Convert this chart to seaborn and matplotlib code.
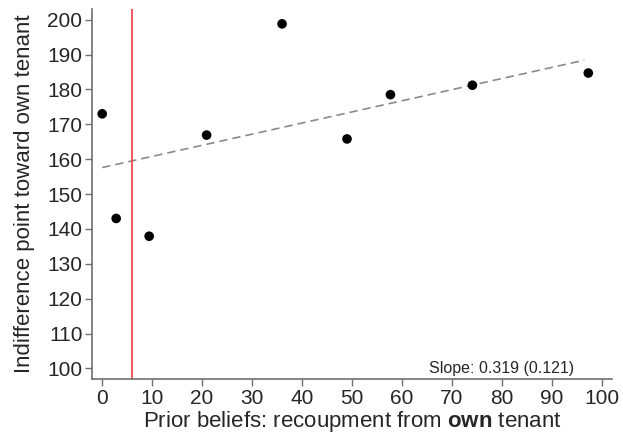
import numpy as np
import pandas as pd
import matplotlib
matplotlib.use('Agg')
import matplotlib.pyplot as plt
import seaborn as sns

# values
prior_beliefs = [0.0, 2.8, 9.4, 20.9, 36.0, 49.0, 57.7, 74.1, 97.3]
indifference = [173.0, 143.0, 137.9, 166.9, 198.8, 165.8, 178.5, 181.2, 184.7]
cutoff = 6
# fitted line as reported in the chart (fit uses the underlying individual data)
slope = 0.319
intercept = 157.6
slope_text = 'Slope: 0.319 (0.121)'

df = pd.DataFrame({'prior': prior_beliefs, 'indiff': indifference})

sns.set_style('ticks')
plt.rcParams['font.family'] = ['Liberation Sans', 'DejaVu Sans']
plt.rcParams['mathtext.fontset'] = 'custom'
plt.rcParams['mathtext.rm'] = 'Liberation Sans'
plt.rcParams['mathtext.bf'] = 'Liberation Sans:bold'

fig = plt.figure(figsize=(6.23, 4.38), dpi=100)
ax = fig.add_axes([0.148, 0.135, 0.834, 0.844])

xs = np.array([df['prior'].min(), df['prior'].max() - 0.8])
fit = pd.DataFrame({'x': xs, 'y': intercept + slope * xs})
sns.lineplot(data=fit, x='x', y='y', ax=ax, color='#8a8a8a', lw=1.2,
             linestyle=(0, (5, 3)))

sns.scatterplot(data=df, x='prior', y='indiff', ax=ax, color='black',
                s=48, edgecolor='none', zorder=3)
ax.axvline(cutoff, color='#f03c3c', lw=1.2)

ax.set_xlim(-2, 102)
ax.set_ylim(97, 203)
ax.set_xticks(range(0, 101, 10))
ax.set_yticks(range(100, 201, 10))
ax.tick_params(labelsize=15, length=5, width=1, color='#707070', pad=2)
for s in ['left', 'bottom']:
    ax.spines[s].set_color('#707070')
    ax.spines[s].set_linewidth(1.2)
sns.despine(ax=ax)

ax.set_xlabel('Prior beliefs: recoupment from $\\mathbf{own}$ tenant', fontsize=16, labelpad=1)
ax.set_ylabel('Indifference point toward own tenant', fontsize=16, labelpad=9)
ax.text(0.788, 0.008, slope_text, transform=ax.transAxes, ha='center',
        va='bottom', fontsize=11.5)

fig.savefig('out.png', dpi=100)
